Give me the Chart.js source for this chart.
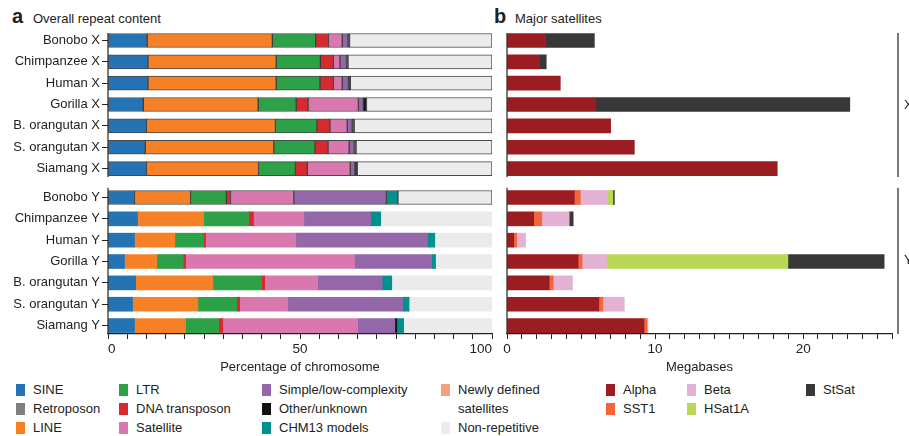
<!DOCTYPE html>
<html>
<head>
<meta charset="utf-8">
<script src="https://cdn.jsdelivr.net/npm/chart.js@4.4.1/dist/chart.umd.min.js"></script>
<style>
body { margin: 0; background: #fff; font-family: 'Liberation Sans', Arial, sans-serif; color: #222; }
#wrap { position: relative; width: 909px; height: 436px; overflow: hidden; }
#leftBox { position: absolute; left: 0; top: 0; width: 520px; height: 375px; }
#rightBox { position: absolute; left: 500px; top: 0; width: 409px; height: 375px; }
.letter { position: absolute; top: 5px; font-size: 20px; font-weight: bold; }
.ptitle { position: absolute; top: 11px; font-size: 13px; }
.lg { position: absolute; font-size: 13px; line-height: 19px; white-space: nowrap; }
.sw { position: absolute; width: 9px; height: 12px; }
</style>
</head>
<body>
<div id="wrap">
  <div class="letter" style="left:12px">a</div>
  <div class="ptitle" style="left:33px">Overall repeat content</div>
  <div class="letter" style="left:494px">b</div>
  <div class="ptitle" style="left:515px">Major satellites</div>
  <div id="leftBox"><canvas id="leftChart"></canvas></div>
  <div id="rightBox"><canvas id="rightChart"></canvas></div>
  <div id="legend"></div>
</div>
<script>
const rowLabels = ['Bonobo X', 'Chimpanzee X', 'Human X', 'Gorilla X', 'B. orangutan X', 'S. orangutan X', 'Siamang X',
    'Bonobo Y', 'Chimpanzee Y', 'Human Y', 'Gorilla Y', 'B. orangutan Y', 'S. orangutan Y', 'Siamang Y'];

// panel a: percentage of chromosome
const sine       = [10.2, 10.4, 10.4, 9.2, 10.0, 9.7, 10.0,   6.9, 7.7, 6.9, 4.3, 7.2, 6.4, 6.9];
const retroposon = [0, 0, 0, 0, 0, 0, 0,   0, 0, 0, 0, 0, 0, 0];
const line       = [32.6, 33.4, 33.4, 29.9, 33.6, 33.5, 29.2,   14.6, 17.2, 10.5, 8.4, 20.1, 17.0, 13.3];
const ltr        = [11.3, 11.5, 11.4, 9.9, 10.8, 10.7, 9.6,   9.3, 11.7, 7.5, 6.9, 12.7, 10.1, 8.6];
const dnaTransposon = [3.3, 3.4, 3.5, 3.1, 3.4, 3.4, 3.1,   1.1, 1.3, 0.5, 0.6, 0.8, 0.8, 1.1];
const satellite  = [3.6, 1.7, 2.3, 13.1, 4.5, 5.5, 11.2,   16.5, 13.1, 23.5, 44.0, 13.8, 12.5, 35.1];
const simpleLow  = [1.5, 1.7, 1.6, 1.3, 1.3, 1.3, 1.2,   24.1, 17.4, 34.3, 20.1, 16.8, 29.9, 9.7];
const otherUnknown = [0.4, 0.4, 0.5, 0.8, 0.5, 0.5, 0.6,   0, 0, 0, 0, 0, 0, 0.5];
const chm13      = [0, 0, 0, 0, 0, 0, 0,   3.0, 2.6, 1.9, 1.0, 2.5, 1.6, 1.8];
const newlyDefined = [0, 0, 0, 0, 0, 0, 0,   0, 0, 0, 0, 0, 0.3, 0];
const nonRepetitive = [37.1, 37.5, 36.9, 32.7, 35.9, 35.4, 35.1,   24.5, 29.0, 14.9, 14.7, 26.1, 21.4, 23.0];

// panel b: megabases
const alpha  = [2.6, 2.2, 3.6, 6.0, 7.0, 8.6, 18.25,   4.55, 1.8, 0.45, 4.8, 2.85, 6.2, 9.25];
const sst1   = [0, 0, 0, 0, 0, 0, 0,   0.4, 0.55, 0.2, 0.27, 0.27, 0.27, 0.2];
const beta   = [0, 0, 0, 0, 0, 0, 0,   1.85, 1.85, 0.6, 1.65, 1.3, 1.45, 0.07];
const hsat1a = [0, 0, 0, 0, 0, 0, 0,   0.35, 0, 0, 12.25, 0, 0, 0];
const stsat  = [3.3, 0.45, 0, 17.15, 0, 0, 0,   0.1, 0.27, 0, 6.5, 0, 0, 0];

const percentTicks = [0, 50, 100];
const mbTicks = [0, 10, 20];

const classes = [
    ['SINE', sine, '#2474b5'],
    ['Retroposon', retroposon, '#808080'],
    ['LINE', line, '#f58025'],
    ['LTR', ltr, '#2ca148'],
    ['DNA transposon', dnaTransposon, '#d62a2e'],
    ['Satellite', satellite, '#d978ae'],
    ['Simple/low-complexity', simpleLow, '#9467ab'],
    ['Other/unknown', otherUnknown, '#111111'],
    ['CHM13 models', chm13, '#00918f'],
    ['Newly defined satellites', newlyDefined, '#f5a07c'],
    ['Non-repetitive', nonRepetitive, '#ebebeb']
];
const satClasses = [
    ['Alpha', alpha, '#9b1d21'],
    ['SST1', sst1, '#f3653b'],
    ['Beta', beta, '#e3b1d3'],
    ['HSat1A', hsat1a, '#b9d752'],
    ['StSat', stsat, '#383838']
];

Chart.defaults.font.family = "'Liberation Sans', Arial, sans-serif";
Chart.defaults.color = '#222';

// row positions on the y axis, with a gap between X and Y groups
const rowPos = rowLabels.map((_, i) => i < 7 ? i : i + 0.355);
const groups = [[-0.35, 6.4], [6.9, 13.75]];

function toPoints(values) {
    const pts = [];
    values.forEach((v, i) => { if (v > 0) pts.push({ x: v, y: rowPos[i], row: i }); });
    return pts;
}

function outlined(ctx) {
    const r = ctx.raw ? ctx.raw.row : -1;
    return r >= 0 && r <= 7 ? 1 : 0;
}

const groupLines = {
    id: 'groupLines',
    afterDraw(chart, args, opts) {
        const c = chart.ctx, y = chart.scales.y;
        c.save();
        c.strokeStyle = '#222';
        c.lineWidth = 1.2;
        groups.forEach((g, k) => {
            c.beginPath();
            c.moveTo(chart.chartArea.left, y.getPixelForValue(g[0]));
            c.lineTo(chart.chartArea.left, y.getPixelForValue(g[1]));
            c.stroke();
            if (opts.bracketX) {
                c.beginPath();
                c.moveTo(opts.bracketX, y.getPixelForValue(g[0]));
                c.lineTo(opts.bracketX, y.getPixelForValue(g[1]));
                c.stroke();
                c.fillStyle = '#222';
                c.font = "13px 'Liberation Sans', Arial, sans-serif";
                c.textBaseline = 'middle';
                c.fillText(k === 0 ? 'X' : 'Y', opts.bracketX + 6, y.getPixelForValue((g[0] + g[1]) / 2));
            }
        });
        c.restore();
    }
};

function drawLeftChart() {
    const ctx = document.getElementById('leftChart').getContext('2d');
    new Chart(ctx, {
        type: 'bar',
        data: {
            datasets: classes.map(([name, vals, color]) => ({
                label: name,
                data: toPoints(vals),
                backgroundColor: color,
                borderColor: 'rgba(40,40,40,0.85)',
                borderWidth: outlined,
                borderSkipped: false,
                barThickness: 14
            }))
        },
        options: {
            indexAxis: 'y',
            responsive: false,
            animation: false,
            layout: { padding: { top: 33, right: 28, left: 0, bottom: 0 } },
            plugins: { legend: { display: false }, tooltip: { enabled: false }, groupLines: {} },
            scales: {
                x: {
                    type: 'linear', min: 0, max: 100, stacked: true,
                    afterBuildTicks: s => { s.ticks = Array.from({ length: 21 }, (_, i) => ({ value: i * 5 })); },
                    ticks: {
                        autoSkip: false, maxRotation: 0, padding: 2, align: 'inner',
                        callback: v => percentTicks.includes(v) ? v : '',
                        font: { size: 13.5 }, color: '#222'
                    },
                    grid: { drawOnChartArea: false, tickLength: 5, color: '#222' },
                    border: { color: '#222', width: 1.2 },
                    title: { display: true, text: 'Percentage of chromosome', font: { size: 13 }, color: '#222', padding: 0 },
                    afterFit: s => { s.height = 41; }
                },
                y: {
                    type: 'linear', reverse: true, min: -0.35, max: 13.75, stacked: true, offset: false,
                    afterBuildTicks: s => { s.ticks = rowPos.map(v => ({ value: v })); },
                    ticks: {
                        autoSkip: false, padding: 2,
                        callback: (v, i) => rowLabels[i],
                        font: { size: 13 }, color: '#222'
                    },
                    grid: { drawOnChartArea: false, offset: false, tickLength: 6, color: '#222' },
                    border: { display: false },
                    afterFit: s => { s.width = 108; }
                }
            }
        },
        plugins: [groupLines]
    });
}

function drawRightChart() {
    const ctx = document.getElementById('rightChart').getContext('2d');
    new Chart(ctx, {
        type: 'bar',
        data: {
            datasets: satClasses.map(([name, vals, color]) => ({
                label: name,
                data: toPoints(vals),
                backgroundColor: color,
                borderWidth: 0,
                barThickness: 14
            }))
        },
        options: {
            indexAxis: 'y',
            responsive: false,
            animation: false,
            layout: { padding: { top: 33, right: 17, left: 7, bottom: 0 } },
            plugins: { legend: { display: false }, tooltip: { enabled: false }, groupLines: { bracketX: 398 } },
            scales: {
                x: {
                    type: 'linear', min: 0, max: 26, stacked: true,
                    afterBuildTicks: s => { s.ticks = Array.from({ length: 27 }, (_, i) => ({ value: i })); },
                    ticks: {
                        autoSkip: false, maxRotation: 0, padding: 2,
                        callback: v => mbTicks.includes(v) ? v : '',
                        font: { size: 13.5 }, color: '#222'
                    },
                    grid: { drawOnChartArea: false, tickLength: 5, color: '#222' },
                    border: { color: '#222', width: 1.2 },
                    title: { display: true, text: 'Megabases', font: { size: 13 }, color: '#222', padding: 0 },
                    afterFit: s => { s.height = 41; }
                },
                y: {
                    type: 'linear', reverse: true, min: -0.35, max: 13.75, stacked: true, offset: false, display: false
                }
            }
        },
        plugins: [groupLines]
    });
}

function drawLegend() {
    const cols = [16, 119, 262, 441, 606, 687, 806];
    const rows = [383, 402, 421];
    const entries = [
        [0, 0, 'SINE'], [0, 1, 'Retroposon'], [0, 2, 'LINE'],
        [1, 0, 'LTR'], [1, 1, 'DNA transposon'], [1, 2, 'Satellite'],
        [2, 0, 'Simple/low-complexity'], [2, 1, 'Other/unknown'], [2, 2, 'CHM13 models'],
        [3, 0, 'Newly defined satellites'], [3, 2, 'Non-repetitive'],
        [4, 0, 'Alpha'], [4, 1, 'SST1'], [5, 0, 'Beta'], [5, 1, 'HSat1A'], [6, 0, 'StSat']
    ];
    const colorOf = {};
    classes.concat(satClasses).forEach(([n, , c]) => { colorOf[n] = c; });
    const box = document.getElementById('legend');
    entries.forEach(([c, r, name]) => {
        const sw = document.createElement('div');
        sw.className = 'sw';
        sw.style.left = cols[c] + 'px';
        sw.style.top = (rows[r] + 1) + 'px';
        sw.style.background = colorOf[name];
        box.appendChild(sw);
        const t = document.createElement('div');
        t.className = 'lg';
        t.style.left = (cols[c] + 17) + 'px';
        t.style.top = (rows[r] - 3) + 'px';
        t.innerHTML = name === 'Newly defined satellites' ? 'Newly defined<br>satellites' : name;
        box.appendChild(t);
    });
}

document.getElementById('leftChart').width = 520;
document.getElementById('leftChart').height = 375;
document.getElementById('rightChart').width = 409;
document.getElementById('rightChart').height = 375;
drawLeftChart();
drawRightChart();
drawLegend();
</script>
</body>
</html>
